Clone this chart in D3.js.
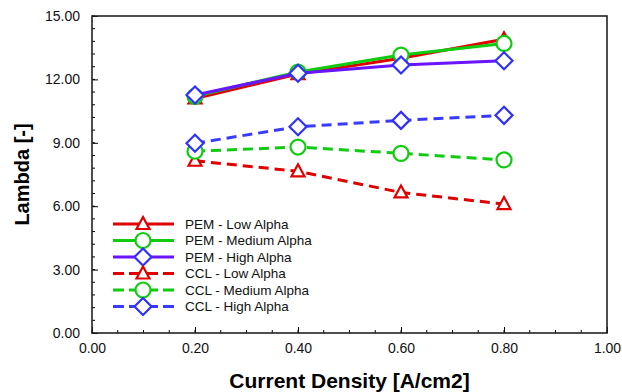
<!DOCTYPE html>
<html>
<head>
<meta charset="utf-8">
<script src="https://cdn.jsdelivr.net/npm/d3@7"></script>
<style>
  body { margin: 0; background: #fff; }
  text { font-family: "Liberation Sans", Arial, sans-serif; }
</style>
</head>
<body>
<div id="chart"></div>
<script>
// Data
const density = [0.2, 0.4, 0.6, 0.8];
const pemLow = [11.1, 12.25, 13.0, 13.9];
const pemMedium = [11.2, 12.35, 13.15, 13.7];
const pemHigh = [11.26, 12.29, 12.68, 12.88];
const cclLow = [8.15, 7.65, 6.65, 6.1];
const cclMedium = [8.6, 8.8, 8.5, 8.19];
const cclHigh = [8.98, 9.76, 10.06, 10.3];
const xTicks = [0, 0.2, 0.4, 0.6, 0.8, 1.0];
const yTicks = [0, 3, 6, 9, 12, 15];

const series = [
  { name: 'PEM - Low Alpha', values: pemLow, line: '#e00000', mark: '#e00000', shape: 'tri', dash: null },
  { name: 'PEM - Medium Alpha', values: pemMedium, line: '#10cc10', mark: '#10cc10', shape: 'circ', dash: null },
  { name: 'PEM - High Alpha', values: pemHigh, line: '#6a14ff', mark: '#3030ff', shape: 'dia', dash: null },
  { name: 'CCL - Low Alpha', values: cclLow, line: '#e00000', mark: '#e00000', shape: 'tri', dash: '10,6' },
  { name: 'CCL - Medium Alpha', values: cclMedium, line: '#10cc10', mark: '#10cc10', shape: 'circ', dash: '10,6' },
  { name: 'CCL - High Alpha', values: cclHigh, line: '#3a3aff', mark: '#3030ff', shape: 'dia', dash: '10,6' }
];

const W = 622, H = 392;
const margin = { top: 16, right: 15, bottom: 59, left: 92 };
const width = W - margin.left - margin.right;
const height = H - margin.top - margin.bottom;

const svg = d3.select('#chart').append('svg')
  .attr('width', W).attr('height', H);
const g = svg.append('g').attr('transform', `translate(${margin.left},${margin.top})`);

const x = d3.scaleLinear().domain([0, 1]).range([0, width]);
const y = d3.scaleLinear().domain([0, 15]).range([height, 0]);

// minor ticks (inward)
const xMinor = d3.range(0, 1.0001, 0.05);
const yMinor = d3.range(0, 15.0001, 0.6);
g.append('g').selectAll('line').data(xMinor).join('line')
  .attr('x1', d => x(d)).attr('x2', d => x(d))
  .attr('y1', height).attr('y2', height - 3)
  .attr('stroke', '#000').attr('stroke-width', 1);
g.append('g').selectAll('line').data(yMinor).join('line')
  .attr('x1', 0).attr('x2', 3)
  .attr('y1', d => y(d)).attr('y2', d => y(d))
  .attr('stroke', '#000').attr('stroke-width', 1);

// axes with inward major ticks
const xAxis = d3.axisBottom(x).tickValues(xTicks).tickFormat(d3.format('.2f'))
  .tickSizeInner(-6).tickSizeOuter(0).tickPadding(10);
const yAxis = d3.axisLeft(y).tickValues(yTicks).tickFormat(d3.format('.2f'))
  .tickSizeInner(-6).tickSizeOuter(0).tickPadding(12);

const gx = g.append('g').attr('transform', `translate(0,${height})`).call(xAxis);
const gy = g.append('g').call(yAxis);
[gx, gy].forEach(a => {
  a.select('.domain').remove();
  a.selectAll('text').style('font-size', '14px').attr('fill', '#111');
  a.selectAll('.tick line').attr('stroke', '#000');
});

// frame
g.append('rect').attr('x', 0).attr('y', 0).attr('width', width).attr('height', height)
  .attr('fill', 'none').attr('stroke', '#222').attr('stroke-width', 1.6);

function marker(sel, shape, color) {
  if (shape === 'tri') {
    sel.append('path').attr('d', 'M0,-7L6.5,5L-6.5,5Z');
  } else if (shape === 'circ') {
    sel.append('circle').attr('r', 7.5);
  } else {
    sel.append('path').attr('d', 'M0,-8.5L8.5,0L0,8.5L-8.5,0Z');
  }
  sel.selectAll('path,circle').attr('fill', '#fff').attr('stroke', color).attr('stroke-width', 2.2);
}

const line = d3.line().x((d, i) => x(density[i])).y(d => y(d));

// draw CCL first, then PEM
[3, 4, 5, 0, 1, 2].forEach(k => {
  const s = series[k];
  g.append('path').datum(s.values)
    .attr('d', line)
    .attr('fill', 'none')
    .attr('stroke', s.line)
    .attr('stroke-width', 3)
    .attr('stroke-dasharray', s.dash);
  s.values.forEach((v, i) => {
    const m = g.append('g').attr('transform', `translate(${x(density[i])},${y(v)})`);
    marker(m, s.shape, s.mark);
  });
});

// legend
const legend = g.append('g').attr('transform', 'translate(21,208)');
series.forEach((s, i) => {
  const row = legend.append('g').attr('transform', `translate(0,${i * 16.5})`);
  row.append('line').attr('x1', 0).attr('x2', 61).attr('y1', 0).attr('y2', 0)
    .attr('stroke', s.line).attr('stroke-width', 3)
    .attr('stroke-dasharray', s.dash ? '12,5' : null)
    .attr('stroke-dashoffset', s.dash ? 1 : null);
  const m = row.append('g').attr('transform', 'translate(30,0)');
  marker(m, s.shape, s.mark);
  row.append('text').attr('x', 72).attr('y', 0).attr('dy', '0.35em')
    .style('font-size', '13.5px').attr('fill', '#111').text(s.name);
});

// axis titles
svg.append('text')
  .attr('x', margin.left + width / 2).attr('y', 388)
  .attr('text-anchor', 'middle')
  .style('font-size', '21px').style('font-weight', 'bold')
  .text('Current Density [A/cm2]');
svg.append('text')
  .attr('transform', `translate(29,${margin.top + height / 2}) rotate(-90)`)
  .attr('text-anchor', 'middle')
  .style('font-size', '20px').style('font-weight', 'bold')
  .text('Lambda [-]');
</script>
</body>
</html>
